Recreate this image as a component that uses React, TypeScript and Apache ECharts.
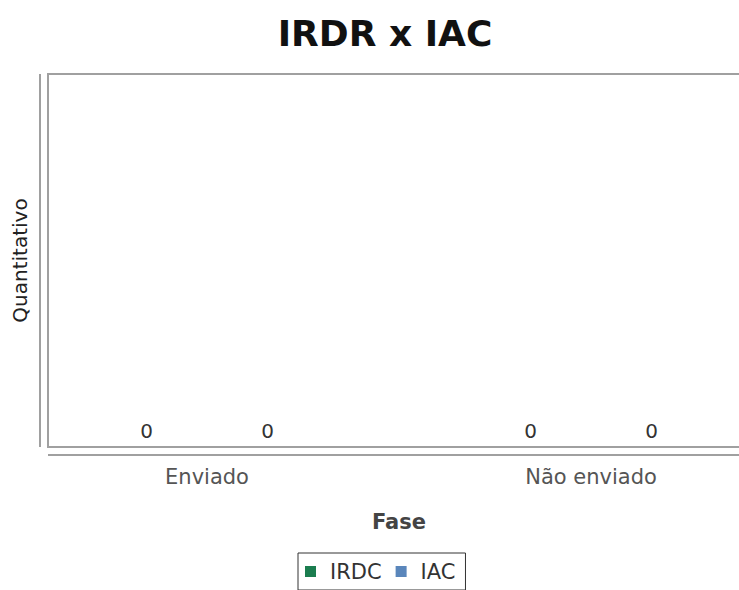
import React, { useEffect, useRef } from "react";
import * as echarts from "echarts";

const categories = ["Enviado", "Não enviado"];
const irdcValues = [0, 0];
const iacValues = [0, 0];
const seriesNames = ["IRDC", "IAC"];
const chartTitle = "IRDR x IAC";
const xAxisName = "Fase";
const yAxisName = "Quantitativo";

const FONT = "DejaVu Sans";

export default function App() {
  const ref = useRef<HTMLDivElement>(null);
  useEffect(() => {
    if (!ref.current) return;
    const chart = echarts.init(ref.current, null, { renderer: "svg" });
    const labelCfg = {
      show: true,
      position: "top",
      distance: 6,
      color: "#333",
      fontSize: 20,
      fontFamily: FONT,
    };
    chart.setOption({
      animation: false,
      backgroundColor: "#fff",
      title: {
        text: chartTitle,
        left: 380,
        textAlign: "center",
        top: 10,
        textStyle: { fontSize: 36, fontWeight: "bold", color: "#111", fontFamily: FONT },
      },
      legend: {
        data: seriesNames,
        left: 298,
        top: 553,
        padding: [8, 10, 8, 7],
        itemGap: 14,
        itemWidth: 11,
        itemHeight: 11,
        icon: "rect",
        borderColor: "#333",
        borderWidth: 1,
        textStyle: { fontSize: 21, color: "#333", fontFamily: FONT, padding: [0, 0, 0, 9] },
      },
      grid: { left: 15, top: 74, width: 768, bottom: 143, outerBoundsMode: "none", containLabel: false },
      xAxis: {
        type: "category",
        data: categories,
        name: xAxisName,
        nameLocation: "middle",
        nameGap: 64,
        nameTextStyle: { fontSize: 21, fontWeight: "bold", color: "#444", fontFamily: FONT },
        axisLine: { show: false },
        axisTick: { show: false },
        axisLabel: { margin: 19, fontSize: 21, color: "#555", fontFamily: FONT },
        splitLine: { show: false },
      },
      yAxis: {
        type: "value",
        min: 0,
        max: 1,
        offset: -33,
        name: yAxisName,
        nameLocation: "middle",
        nameGap: 18,
        nameRotate: 90,
        nameTextStyle: { fontSize: 20, color: "#222", fontFamily: FONT },
        axisLine: { show: false },
        axisTick: { show: false },
        axisLabel: { show: false },
        splitLine: { show: false },
      },
      graphic: [
        {
          type: "rect",
          shape: { x: 48, y: 74, width: 702, height: 373 },
          style: { fill: "none", stroke: "#a0a0a0", lineWidth: 2 },
          silent: true,
        },
        {
          type: "line",
          shape: { x1: 40, y1: 74, x2: 40, y2: 447 },
          style: { stroke: "#a0a0a0", lineWidth: 2 },
          silent: true,
        },
        {
          type: "line",
          shape: { x1: 48, y1: 455, x2: 750, y2: 455 },
          style: { stroke: "#a0a0a0", lineWidth: 2 },
          silent: true,
        },
      ],
      series: [
        {
          name: seriesNames[0],
          type: "bar",
          data: irdcValues,
          barWidth: 60,
          barGap: "101.67%",
          itemStyle: { color: "#1b7d4f" },
          label: labelCfg,
        },
        {
          name: seriesNames[1],
          type: "bar",
          data: iacValues,
          barWidth: 60,
          itemStyle: { color: "#5a86bb" },
          label: labelCfg,
        },
      ],
    });
    return () => chart.dispose();
  }, []);
  return <div ref={ref} style={{ width: 739, height: 590, position: "absolute", left: 0, top: 0 }} />;
}
